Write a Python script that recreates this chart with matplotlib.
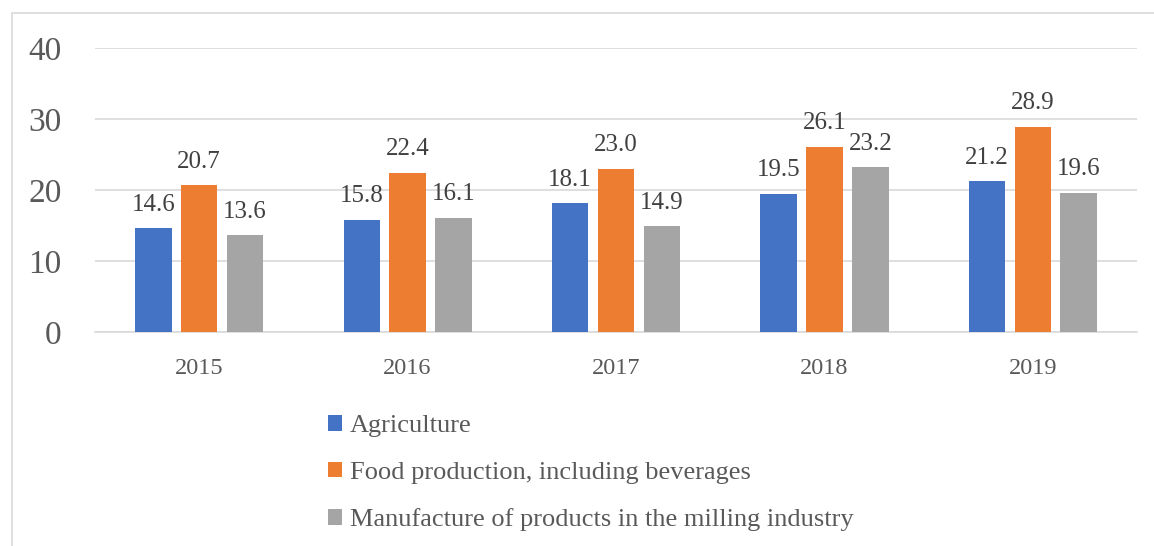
import numpy as np
import matplotlib.pyplot as plt
from matplotlib.patches import Rectangle

years = ["2015", "2016", "2017", "2018", "2019"]
agriculture = [14.6, 15.8, 18.1, 19.5, 21.2]
food = [20.7, 22.4, 23.0, 26.1, 28.9]
milling = [13.6, 16.1, 14.9, 23.2, 19.6]
series_names = [
    "Agriculture",
    "Food production, including beverages",
    "Manufacture of products in the milling industry",
]
colors = ["#4472C4", "#ED7D31", "#A5A5A5"]

plt.rcParams["font.family"] = ["Liberation Serif", "DejaVu Serif"]

fig = plt.figure(figsize=(11.54, 5.46), dpi=100)
ax = fig.add_axes([0.0823, 0.392, 0.903, 0.520])

x = np.arange(len(years))
width = 0.175
offset = 0.22
for i, (vals, name, c) in enumerate(zip([agriculture, food, milling], series_names, colors)):
    bars = ax.bar(x + (i - 1) * offset, vals, width, color=c, label=name, zorder=3)
    ax.bar_label(bars, labels=[f"{v:.1f}" for v in vals], padding=9,
                 fontsize=18, color="#404040")

ax.set_xlim(-0.5, len(years) - 0.5)
ax.set_ylim(0, 40)
ax.set_yticks([0, 10, 20, 30, 40])
ax.set_xticks(x)
ax.set_xticklabels(years)
ax.tick_params(axis="y", length=0, pad=24, labelsize=24, labelcolor="#595959")
ax.tick_params(axis="x", length=0, pad=19, labelsize=17.5, labelcolor="#595959")
ax.grid(axis="y", color="#D9D9D9", linewidth=1.2, zorder=0)
for s in ["top", "right", "left"]:
    ax.spines[s].set_visible(False)
ax.spines["bottom"].set_color("#D9D9D9")
ax.spines["bottom"].set_linewidth(1.2)

# outer frame
fig.add_artist(Rectangle((12 / 1154, -0.1), 1.2, 0.976 + 0.1, transform=fig.transFigure,
                         fill=False, edgecolor="#D9D9D9", linewidth=1.2))

handles, labels = ax.get_legend_handles_labels()
fig.legend(handles, labels, loc="upper left", bbox_to_anchor=(0.284, 0.24),
           frameon=False, fontsize=19, labelcolor="#595959",
           handlelength=0.55, handleheight=0.55, handletextpad=0.3,
           labelspacing=0.92, borderpad=0, borderaxespad=0)

fig.savefig("out.png", dpi=100)
